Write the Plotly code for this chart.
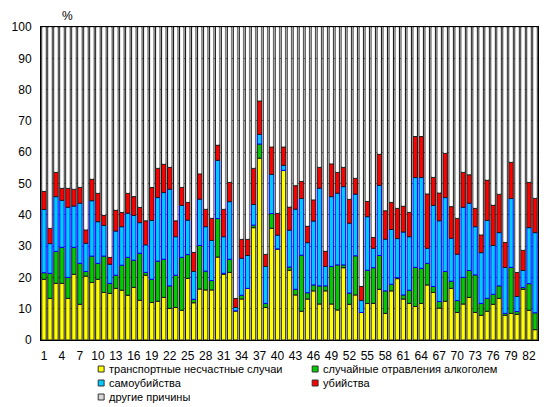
import numpy as np
import plotly.graph_objects as go

# Cumulative tops (yellow, +green, +blue, +red), regions 1..83
regions = list(range(1, 84))
cum_transport = [19.4,13.3,18.1,18.1,13.3,21.0,11.4,20.4,18.4,19.4,15.2,14.9,16.5,15.9,14.3,16.8,12.7,20.7,12.0,12.4,
                 13.6,10.1,10.4,9.5,19.7,11.9,16.3,16.0,16.0,26.5,21.0,21.6,9.3,13.1,16.5,35.9,58.1,10.4,35.7,29.1,
                 54.2,22.3,14.4,9.2,13.1,15.7,11.5,15.7,11.5,9.6,23.1,11.4,14.4,8.8,11.7,11.7,16.2,8.5,15.7,19.6,
                 13.1,11.7,10.7,11.7,17.6,15.2,10.2,12.4,16.5,8.8,11.5,13.6,8.8,7.9,9.2,11.4,13.3,7.9,8.5,8.2,
                 16.2,9.5,3.3]
cum_alcohol = [21.5,21.3,28.3,29.6,20.0,29.6,24.5,21.9,26.8,24.5,26.8,18.1,20.7,23.9,26.4,25.5,27.7,21.6,19.4,25.2,
               25.8,17.3,20.7,26.4,27.3,13.0,30.2,22.0,19.0,38.8,21.3,25.8,9.3,14.3,16.5,36.7,62.6,11.7,40.4,29.1,
               54.2,23.3,16.2,27.1,15.1,17.6,17.3,17.3,23.5,24.0,24.0,15.0,26.9,8.8,22.3,23.1,27.0,15.7,17.8,19.9,
               14.4,15.9,23.2,22.9,24.5,17.1,12.3,21.9,18.8,12.6,20.0,22.2,20.8,11.7,13.3,14.6,17.3,8.5,23.2,9.1,
               16.8,18.0,8.7]
cum_suicide = [41.7,30.8,45.8,44.6,42.4,42.8,43.7,30.9,44.5,37.8,36.6,24.2,34.8,36.2,40.5,39.8,37.5,30.4,38.2,45.5,
               47.1,48.2,33.0,43.0,38.3,21.9,45.0,36.2,31.8,57.4,33.0,44.2,10.4,26.1,27.0,43.3,65.7,23.5,52.9,33.5,
               55.8,35.1,41.8,45.2,31.1,38.0,48.5,23.5,45.8,46.9,49.0,37.3,46.6,12.6,39.4,29.3,49.4,32.2,35.3,32.4,
               34.5,33.0,51.9,51.9,29.3,43.0,38.1,45.5,32.5,27.4,42.4,43.7,36.2,27.9,38.2,30.2,34.3,23.2,45.2,13.9,
               22.2,35.9,34.3]
cum_murder = [47.5,35.7,53.6,48.5,48.5,48.2,48.8,35.2,51.4,46.9,39.9,26.4,41.5,40.8,46.9,45.8,42.4,38.1,48.7,54.9,
              56.2,55.2,38.1,48.8,44.0,28.0,53.1,41.8,38.9,62.3,41.8,50.4,13.3,32.2,32.2,54.9,76.4,27.4,61.7,40.5,
              61.7,42.5,49.3,50.7,36.4,44.8,55.2,28.4,56.3,53.6,55.2,45.0,51.7,17.1,44.3,32.8,59.4,41.3,44.0,42.1,
              42.8,40.8,65.0,65.0,46.7,52.0,47.0,59.7,42.6,38.9,53.6,52.8,42.1,33.6,51.1,43.1,46.6,31.2,56.8,21.6,
              28.7,50.4,45.3]

tick_labels = [str(v) for v in range(1, 83, 3)]

ct = np.array(cum_transport); ca = np.array(cum_alcohol)
cs = np.array(cum_suicide); cm = np.array(cum_murder)
transport = ct
alcohol = ca - ct
suicide = cs - ca
murder = cm - cs
other = 100 - cm

names = ["транспортные несчастные случаи", "случайные отравления алкоголем",
         "самоубийства", "убийства", "другие причины"]
colors = ["#FFFF00", "#00CC00", "#00CCFF", "#FF0000", "#d8d8d8"]

FONT = "Arial, Liberation Sans, sans-serif"
W = 0.74
dark = "#1a1a1a"
fig = go.Figure()
fig.add_trace(go.Bar(x=regions, y=transport, base=np.zeros(83), name=names[0], width=W,
                     marker=dict(color=colors[0], line=dict(color=dark, width=1))))
fig.add_trace(go.Bar(x=regions, y=alcohol, base=ct, name=names[1], width=W,
                     marker=dict(color=colors[1], line=dict(color=dark, width=1))))
fig.add_trace(go.Bar(x=regions, y=suicide, base=ca, name=names[2], width=W,
                     marker=dict(color=colors[2], line=dict(color="#0000FF", width=1))))
fig.add_trace(go.Bar(x=regions, y=murder, base=cs, name=names[3], width=W,
                     marker=dict(color=colors[3], line=dict(color=dark, width=1))))
fig.add_trace(go.Bar(x=regions, y=other, base=cm, name=names[4], width=W,
                     marker=dict(color="#cccccc", line=dict(color=dark, width=1))))
# inner layers to mimic the horizontal gradient of the grey bars
for wd, col in [(0.56, "#e2e2e2"), (0.40, "#f2f2f2"), (0.22, "#ffffff")]:
    fig.add_trace(go.Bar(x=regions, y=other - 0.35, base=cm + 0.2, width=wd, showlegend=False,
                         hoverinfo="skip", marker=dict(color=col, line=dict(width=0))))

# Manual legend (kept within the canvas), positioned in paper coordinates
L, T, PW, PH = 35, 27, 504, 313
def px_x(p):
    return (p - L) / PW
def px_y(p):
    return (T + PH - p) / PH

legend_pos = [(96, 369), (313, 369), (96, 383), (313, 383), (96, 397)]
shapes = []
annotations = []
for (lx, ly), nm, col in zip(legend_pos, names, colors):
    shapes.append(dict(type="rect", xref="paper", yref="paper",
                       x0=px_x(lx - 3), x1=px_x(lx + 3), y0=px_y(ly + 3), y1=px_y(ly - 3),
                       fillcolor=col, line=dict(color="#333333", width=1)))
    annotations.append(dict(text=nm, xref="paper", yref="paper", x=px_x(lx + 6), y=px_y(ly),
                            xanchor="left", yanchor="middle", showarrow=False,
                            font=dict(family=FONT, size=11, color="black")))
annotations.append(dict(text="%", xref="paper", yref="paper", x=px_x(62), y=px_y(16),
                        xanchor="center", yanchor="middle", showarrow=False,
                        font=dict(family=FONT, size=12, color="black")))

fig.update_layout(
    width=551, height=407,
    margin=dict(l=L, r=12, t=T, b=67),
    paper_bgcolor="white", plot_bgcolor="white",
    barmode="overlay",
    font=dict(family=FONT, size=12, color="black"),
    showlegend=False,
    shapes=shapes,
    annotations=annotations,
)
fig.update_xaxes(range=[0.5, 83.5], tickmode="array", tickvals=list(range(1, 83, 3)),
                 ticktext=tick_labels, showgrid=False, showline=True, linecolor="black",
                 linewidth=1, mirror=True, ticks="", zeroline=False, ticklabelstandoff=5,
                 tickfont=dict(family=FONT, size=12, color="black"))
fig.update_yaxes(range=[0, 100], dtick=10, showgrid=True, gridcolor="#808080", gridwidth=1,
                 showline=True, linecolor="black", linewidth=1, mirror=True, ticks="",
                 zeroline=False, ticklabelstandoff=6,
                 tickfont=dict(family=FONT, size=12, color="black"))

fig.write_html("out.html", config={"displayModeBar": False},
               post_script="document.body.style.margin='0';document.body.style.overflow='hidden';")
